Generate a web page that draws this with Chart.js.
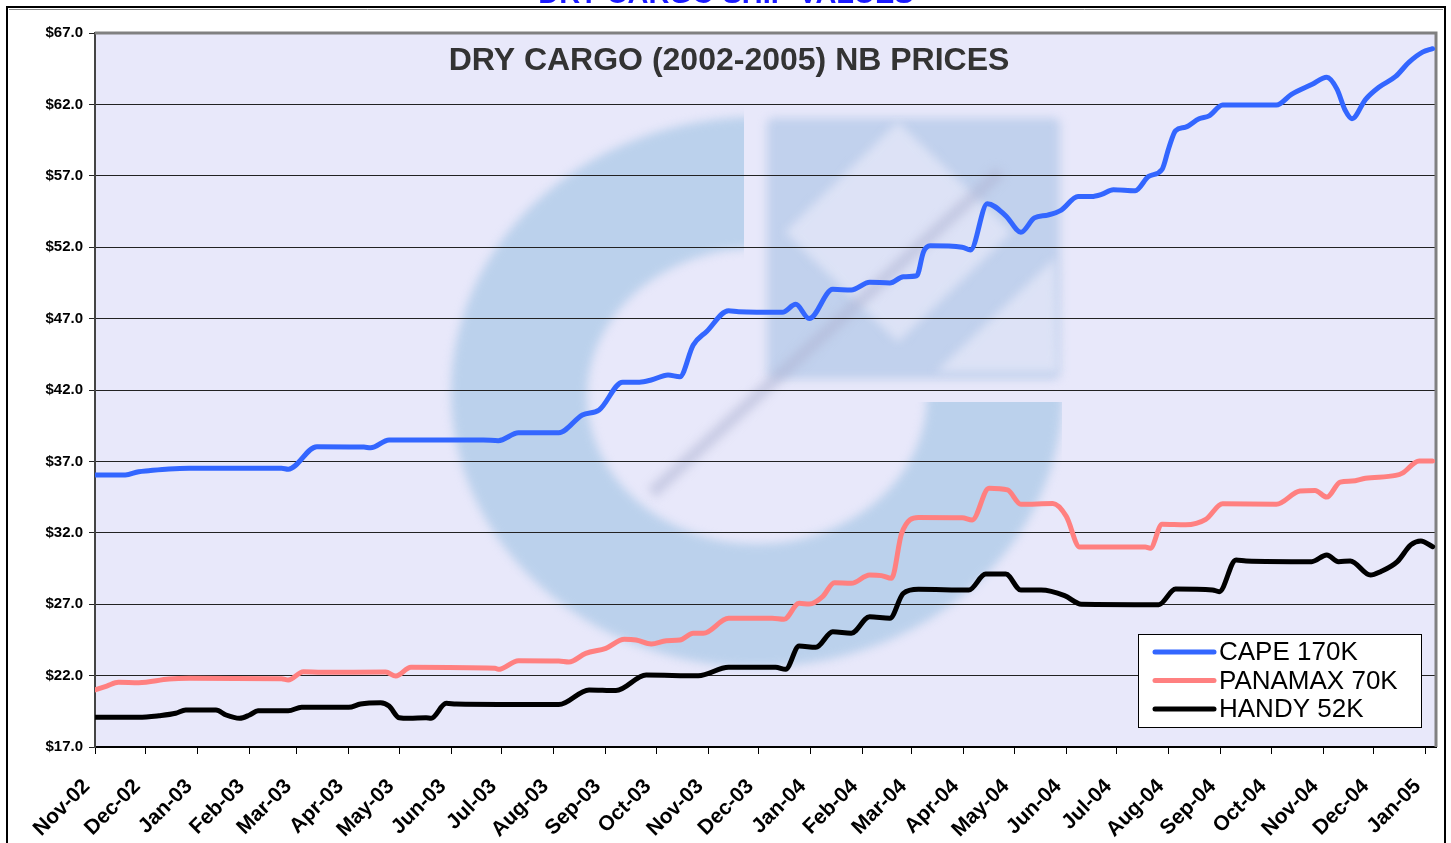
<!DOCTYPE html>
<html>
<head>
<meta charset="utf-8">
<title>Dry cargo NB prices</title>
<script src="https://cdn.jsdelivr.net/npm/chart.js@4.4.0/dist/chart.umd.min.js"></script>
<style>
    html, body { margin: 0; padding: 0; background: #fff; overflow: hidden; }
    #wrap { position: relative; width: 1451px; height: 843px; }
</style>
</head>
<body>
<div id="wrap"><canvas id="chart" width="1451" height="843"></canvas></div>
<script>
// --- Data --- //

const monthLabels = ['Nov-02', 'Dec-02', 'Jan-03', 'Feb-03', 'Mar-03', 'Apr-03', 'May-03', 'Jun-03', 'Jul-03',
    'Aug-03', 'Sep-03', 'Oct-03', 'Nov-03', 'Dec-03', 'Jan-04', 'Feb-04', 'Mar-04', 'Apr-04', 'May-04',
    'Jun-04', 'Jul-04', 'Aug-04', 'Sep-04', 'Oct-04', 'Nov-04', 'Dec-04', 'Jan-05'];

const axisStart = '2002-11-01';
const axisEnd = '2005-01-07';

const capeDates = ['2002-11-01', '2002-11-19', '2002-11-27', '2002-12-03', '2002-12-15', '2002-12-27', '2003-02-20',
    '2003-02-24', '2003-03-13', '2003-04-10', '2003-04-14', '2003-04-25', '2003-06-20', '2003-06-29', '2003-07-11',
    '2003-08-04', '2003-08-18', '2003-08-28', '2003-09-11', '2003-09-21', '2003-09-28', '2003-10-08', '2003-10-15',
    '2003-10-23', '2003-10-31', '2003-11-13', '2003-11-19', '2003-12-15', '2003-12-23', '2003-12-31', '2004-01-14',
    '2004-01-25', '2004-02-05', '2004-02-17', '2004-02-25', '2004-03-04', '2004-03-08', '2004-03-12', '2004-03-31',
    '2004-04-05', '2004-04-15', '2004-04-26', '2004-05-05', '2004-05-13', '2004-05-21', '2004-05-29', '2004-06-08',
    '2004-06-16', '2004-06-22', '2004-06-29', '2004-07-12', '2004-07-20', '2004-07-28', '2004-08-01', '2004-08-05',
    '2004-08-11', '2004-08-19', '2004-08-25', '2004-09-02', '2004-10-04', '2004-10-13', '2004-10-25', '2004-11-03',
    '2004-11-09', '2004-11-14', '2004-11-18', '2004-11-26', '2004-12-04', '2004-12-14', '2004-12-22', '2004-12-30',
    '2005-01-05'];
const capeValues = [36.05, 36.05, 36.28, 36.35, 36.47, 36.52, 36.52,
    36.45, 38.03, 38.0, 37.95, 38.5, 38.5, 38.45, 39.0,
    39.0, 40.25, 40.6, 42.55, 42.55, 42.7, 43.05, 42.93,
    45.15, 46.1, 47.55, 47.48, 47.44, 48.0, 47.0, 49.05,
    49.0, 49.54, 49.5, 49.93, 50.0, 51.67, 52.1, 52.0,
    51.8, 55.05, 54.2, 53.05, 54.05, 54.25, 54.6, 55.55,
    55.55, 55.7, 56.03, 55.96, 56.96, 57.45, 58.95, 60.16,
    60.41, 61.0, 61.2, 61.96, 61.95, 62.7, 63.39, 63.9,
    63.09, 61.58, 61.0, 62.34, 63.2, 63.96, 64.96, 65.66,
    65.9];

const panamaxDates = ['2002-11-01', '2002-11-08', '2002-11-15', '2002-11-27', '2002-12-15', '2002-12-27', '2003-02-20',
    '2003-02-24', '2003-03-05', '2003-03-16', '2003-04-23', '2003-04-29', '2003-05-08', '2003-06-27', '2003-06-29',
    '2003-07-11', '2003-08-04', '2003-08-10', '2003-08-20', '2003-09-01', '2003-09-12', '2003-09-19', '2003-09-28',
    '2003-10-07', '2003-10-15', '2003-10-23', '2003-10-29', '2003-11-13', '2003-12-09', '2003-12-16', '2003-12-25',
    '2003-12-31', '2004-01-08', '2004-01-15', '2004-01-25', '2004-02-05', '2004-02-12', '2004-02-18', '2004-02-24',
    '2004-03-05', '2004-03-31', '2004-04-06', '2004-04-16', '2004-04-27', '2004-05-05', '2004-05-24', '2004-06-01',
    '2004-06-09', '2004-07-18', '2004-07-21', '2004-07-28', '2004-08-11', '2004-08-23', '2004-09-02', '2004-10-04',
    '2004-10-18', '2004-10-27', '2004-11-03', '2004-11-11', '2004-11-18', '2004-11-26', '2004-12-14', '2004-12-18',
    '2004-12-28', '2005-01-05'];
const panamaxValues = [21.0, 21.27, 21.53, 21.5, 21.76, 21.81, 21.78,
    21.69, 22.27, 22.23, 22.25, 21.97, 22.58, 22.51, 22.44,
    23.04, 23.02, 22.95, 23.56, 23.91, 24.54, 24.49, 24.21,
    24.44, 24.49, 24.96, 24.96, 26.01, 26.01, 25.94, 27.06,
    27.01, 27.53, 28.51, 28.46, 29.04, 29.0, 28.81, 31.96,
    33.08, 33.06, 32.9, 35.12, 35.0, 34.0, 34.05, 33.15,
    31.0, 31.0, 30.92, 32.6, 32.56, 32.94, 34.03, 34.0,
    34.93, 34.97, 34.5, 35.55, 35.62, 35.82, 36.02, 36.18,
    37.03, 37.02];

const handyDates = ['2002-11-01', '2002-11-27', '2002-12-09', '2002-12-19', '2002-12-25', '2003-01-12', '2003-01-18',
    '2003-01-26', '2003-02-01', '2003-02-06', '2003-02-24', '2003-03-04', '2003-04-01', '2003-04-08', '2003-04-20',
    '2003-04-25', '2003-05-01', '2003-05-07', '2003-05-17', '2003-05-20', '2003-05-29', '2003-06-04', '2003-08-04',
    '2003-08-22', '2003-09-07', '2003-09-25', '2003-10-26', '2003-11-13', '2003-12-11', '2003-12-17', '2003-12-25',
    '2004-01-04', '2004-01-14', '2004-01-25', '2004-02-05', '2004-02-17', '2004-02-25', '2004-03-05', '2004-04-04',
    '2004-04-14', '2004-04-26', '2004-05-05', '2004-05-17', '2004-05-31', '2004-06-10', '2004-07-26', '2004-08-05',
    '2004-08-27', '2004-08-31', '2004-09-10', '2004-09-16', '2004-10-25', '2004-11-03', '2004-11-10', '2004-11-17',
    '2004-11-29', '2004-12-05', '2004-12-15', '2004-12-23', '2004-12-29', '2005-01-05'];
const handyValues = [19.08, 19.08, 19.19, 19.36, 19.59, 19.59, 19.24,
    19.01, 19.24, 19.54, 19.54, 19.78, 19.78, 20.01, 20.1,
    19.87, 19.05, 19.01, 19.05, 19.01, 20.06, 20.01, 19.97,
    21.0, 20.95, 22.04, 21.99, 22.58, 22.58, 22.44, 24.07,
    23.98, 25.07, 24.96, 26.12, 26.01, 27.76, 28.04, 27.99,
    29.11, 29.11, 27.99, 27.99, 27.6, 27.0, 26.97, 28.06,
    28.0, 27.88, 30.1, 30.03, 29.98, 30.45, 29.98, 30.03,
    29.04, 29.28, 29.98, 31.15, 31.43, 31.03];

const seriesNames = ['CAPE 170K', 'PANAMAX 70K', 'HANDY 52K'];
const seriesColors = ['#3366FF', '#FF8080', '#000000'];

// --- Helpers --- //

const MONTHS = ['Jan', 'Feb', 'Mar', 'Apr', 'May', 'Jun', 'Jul', 'Aug', 'Sep', 'Oct', 'Nov', 'Dec'];
const DAY_MS = 86400000;
const utc = s => { const [y, m, d] = s.split('-').map(Number); return Date.UTC(y, m - 1, d); };
const toDay = s => (utc(s) - utc(axisStart)) / DAY_MS;
const tickDays = monthLabels.map(l => {
    const [mon, yy] = l.split('-');
    return (Date.UTC(2000 + Number(yy), MONTHS.indexOf(mon), 1) - utc(axisStart)) / DAY_MS;
});
const toPoints = (dates, values) => dates.map((d, i) => ({ x: toDay(d), y: values[i] }));

const FONT = '"Liberation Sans", Arial, Helvetica, sans-serif';

// background, frame, watermark logo, titles, borders and legend
const decorPlugin = {
    id: 'decor',
    beforeDraw(chart) {
        const { ctx, chartArea: a, width, height } = chart;
        ctx.save();
        ctx.fillStyle = '#fff';
        ctx.fillRect(0, 0, width, height);

        // page heading, mostly cut off at the top edge
        ctx.fillStyle = '#1a1aff';
        ctx.font = 'bold 29px ' + FONT;
        ctx.textAlign = 'center';
        ctx.textBaseline = 'alphabetic';
        ctx.fillText('DRY CARGO SHIP VALUES', 726, 3);

        // outer frame
        ctx.strokeStyle = '#000';
        ctx.lineWidth = 2;
        ctx.beginPath();
        ctx.moveTo(7, height + 5); ctx.lineTo(7, 7); ctx.lineTo(1445, 7); ctx.lineTo(1445, height + 5);
        ctx.stroke();
        ctx.strokeStyle = '#888';
        ctx.lineWidth = 1;
        ctx.beginPath();
        ctx.moveTo(9, 9.5); ctx.lineTo(1443, 9.5);
        ctx.stroke();

        // plot background
        ctx.fillStyle = '#E8E8FA';
        ctx.fillRect(a.left, a.top, a.right - a.left, a.bottom - a.top);

        drawLogo(ctx, a);
        ctx.restore();
    },
    beforeDatasetsDraw(chart) {
        const { ctx, chartArea: a } = chart;
        ctx.save();
        ctx.strokeStyle = '#808080';
        ctx.lineWidth = 3;
        ctx.beginPath();
        ctx.moveTo(a.left, a.top); ctx.lineTo(a.right, a.top); ctx.lineTo(a.right, a.bottom);
        ctx.stroke();

        ctx.fillStyle = '#333';
        ctx.font = 'bold 32px ' + FONT;
        ctx.textAlign = 'center';
        ctx.textBaseline = 'alphabetic';
        ctx.fillText('DRY CARGO (2002-2005) NB PRICES', 729, 70);
        ctx.restore();
    },
    afterDatasetsDraw(chart) {
        const { ctx } = chart;
        const box = { x: 1138.5, y: 634.5, w: 283, h: 93 };
        ctx.save();
        ctx.fillStyle = '#fff';
        ctx.fillRect(box.x, box.y, box.w, box.h);
        ctx.strokeStyle = '#000';
        ctx.lineWidth = 1;
        ctx.strokeRect(box.x, box.y, box.w, box.h);
        ctx.font = '26px ' + FONT;
        ctx.textBaseline = 'middle';
        ctx.textAlign = 'left';
        chart.data.datasets.forEach((ds, i) => {
            const y = 652 + i * 28.5;
            ctx.strokeStyle = ds.borderColor;
            ctx.lineWidth = 5;
            ctx.lineCap = 'round';
            ctx.beginPath();
            ctx.moveTo(1155, y); ctx.lineTo(1214, y);
            ctx.stroke();
            ctx.fillStyle = '#000';
            ctx.fillText(ds.label, 1219, y + 1);
        });
        ctx.restore();
    }
};

function drawLogo(ctx, a) {
    ctx.save();
    ctx.beginPath();
    ctx.rect(a.left, a.top, a.right - a.left, a.bottom - a.top);
    ctx.clip();
    ctx.filter = 'blur(5px)';
    const blue = 'rgba(160,196,228,0.62)';

    // the "C" ring, open at the upper right
    ctx.save();
    ctx.beginPath();
    ctx.rect(0, 0, 744, 843);
    ctx.rect(744, 402, 318, 441);
    ctx.clip();
    ctx.beginPath();
    ctx.ellipse(757, 392, 306, 275, 0, 0, Math.PI * 2);
    ctx.ellipse(757, 396, 170, 148, 0, 0, Math.PI * 2);
    ctx.fillStyle = blue;
    ctx.fill('evenodd');
    ctx.restore();

    // square block with a lighter diamond
    ctx.fillStyle = 'rgba(160,190,226,0.55)';
    ctx.beginPath();
    ctx.roundRect(767, 118, 293, 261, 6);
    ctx.fill();
    ctx.fillStyle = 'rgba(232,234,250,0.7)';
    ctx.beginPath();
    ctx.moveTo(785, 232); ctx.lineTo(898, 122); ctx.lineTo(1012, 232); ctx.lineTo(898, 342);
    ctx.closePath();
    ctx.fill();
    ctx.beginPath();
    ctx.moveTo(936, 372); ctx.lineTo(1055, 258); ctx.lineTo(1058, 372);
    ctx.closePath();
    ctx.fill();

    // diagonal shaft
    ctx.strokeStyle = 'rgba(175,180,212,0.55)';
    ctx.lineWidth = 12;
    ctx.beginPath();
    ctx.moveTo(652, 493); ctx.lineTo(1000, 172);
    ctx.stroke();
    ctx.restore();
}

const lineStyle = {
    borderWidth: 5,
    pointRadius: 0,
    pointHoverRadius: 0,
    fill: false,
    cubicInterpolationMode: 'monotone',
    borderCapStyle: 'round',
    borderJoinStyle: 'round'
};

new Chart(document.getElementById('chart'), {
    type: 'line',
    data: {
        datasets: [
            { ...lineStyle, label: seriesNames[0], data: toPoints(capeDates, capeValues), borderColor: seriesColors[0] },
            { ...lineStyle, label: seriesNames[1], data: toPoints(panamaxDates, panamaxValues), borderColor: seriesColors[1] },
            { ...lineStyle, label: seriesNames[2], data: toPoints(handyDates, handyValues), borderColor: seriesColors[2] }
        ]
    },
    options: {
        responsive: false,
        devicePixelRatio: 1,
        animation: false,
        layout: { padding: { left: 0, right: 15, top: 33, bottom: 0 } },
        plugins: {
            legend: { display: false },
            title: { display: false },
            tooltip: { enabled: false }
        },
        scales: {
            x: {
                type: 'linear',
                min: 0,
                max: toDay(axisEnd),
                afterBuildTicks: scale => { scale.ticks = tickDays.map(v => ({ value: v })); },
                afterFit: scale => { scale.height = 96; scale.paddingLeft = 0; scale.paddingRight = 0; },
                ticks: {
                    autoSkip: false,
                    minRotation: 45,
                    maxRotation: 45,
                    padding: 12,
                    color: '#000',
                    font: { family: FONT, size: 21, weight: 'bold' },
                    // two trailing spaces push the rotated label's end a little off the tick, as in the original
                    callback: (value, index) => monthLabels[index] + '  '
                },
                grid: { drawOnChartArea: false, tickLength: 7, color: '#000', lineWidth: 1 },
                border: { color: '#000', width: 2 }
            },
            y: {
                min: 17,
                max: 67,
                afterFit: scale => { scale.width = 95; scale.paddingTop = 0; scale.paddingBottom = 0; },
                ticks: {
                    stepSize: 5,
                    padding: 6,
                    color: '#000',
                    font: { family: FONT, size: 15, weight: 'bold' },
                    callback: v => '$' + v.toFixed(1)
                },
                grid: { color: '#222', lineWidth: 1, tickLength: 6 },
                border: { color: '#444', width: 2 }
            }
        }
    },
    plugins: [decorPlugin]
});
</script>
</body>
</html>
